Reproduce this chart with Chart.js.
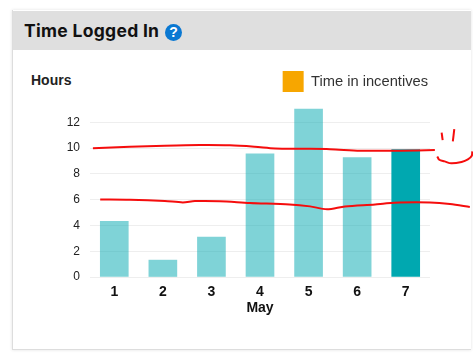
<!DOCTYPE html>
<html><head><meta charset="utf-8">
<style>
html,body{margin:0;padding:0;background:#fff;width:473px;height:362px;overflow:hidden}
#card{position:absolute;left:12px;top:10px;width:458px;height:339px;background:#fff;border-left:1px solid #ddd;border-bottom:1px solid #ddd;box-shadow:0 0 3px rgba(0,0,0,.12)}
#head{position:absolute;left:0;top:1px;right:0;height:39px;background:#dfdfdf}
#title{position:absolute;left:24px;top:20px;font:700 17.5px Inter,sans-serif;color:#111;letter-spacing:.3px;white-space:nowrap}
#help{position:absolute;left:165px;top:24px;width:17px;height:17px;border-radius:50%;background:#0a78d2;color:#fff;font:700 14px/17px "Liberation Sans",sans-serif;text-align:center}
#hours{position:absolute;left:31px;top:72px;font:700 14px "Liberation Sans",sans-serif;color:#222}
canvas{position:absolute;left:0;top:0}
</style></head><body>
<div id="card"><div id="head"></div></div>
<div id="title">Time Logged In</div><div id="help">?</div><div id="hours">Hours</div>
<canvas id="c" width="473" height="362"></canvas>
<script src="https://cdn.jsdelivr.net/npm/chart.js@4"></script>
<script>
const categories=['1','2','3','4','5','6','7'];
const hours=[4.32,1.31,3.09,9.55,13.04,9.26,9.88];
const yTicks=[0,2,4,6,8,10,12];
const legendLabel='Time in incentives';
const axisLabel='May';
const upperX=[0.56,1.32,2.04,2.76,3.38,3.89,4.31,4.82,5.44,6.06,6.88,7.60];
const upperY=[9.99,10.11,10.19,10.24,10.22,10.11,9.98,9.95,9.92,9.80,9.80,9.85];
const lowerX=[0.71,1.32,2.04,2.41,2.66,3.17,3.79,4.61,5.03,5.38,5.75,6.37,6.57,6.88,7.50,7.91,8.32];
const lowerY=[6.02,6.00,5.90,5.79,5.89,5.88,5.75,5.63,5.48,5.26,5.48,5.63,5.71,5.79,5.79,5.67,5.44];
const eyeLX=[7.74,7.76], eyeLY=[11.21,10.63];
const eyeRX=[8.00,7.97], eyeRY=[11.47,10.52];
const noseX=[7.88], noseY=[9.78];
const smileX=[7.65,7.69,7.80,7.94,8.15,8.28,8.36,8.37];
const smileY=[9.36,9.10,8.97,8.82,8.93,9.13,9.41,9.75];
const pts=(xs,ys)=>xs.map((x,i)=>({x,y:ys[i]}));
const ink=(xs,ys,w)=>({type:'line',data:pts(xs,ys),xAxisID:'ink',borderColor:'#f50d0d',backgroundColor:'#f50d0d',borderWidth:w,pointRadius:0,tension:.3,clip:false,order:0,parsing:false});
const barColors=categories.map((_,i)=>i===6?'#00a8b0':'rgba(0,168,176,.5)');
new Chart(document.getElementById('c'),{
 data:{labels:categories,datasets:[
  {type:'bar',label:legendLabel,data:hours,backgroundColor:barColors,barThickness:28,grouped:false,order:1},
  ink(upperX,upperY,2),ink(lowerX,lowerY,2),ink(eyeLX,eyeLY,2),ink(eyeRX,eyeRY,2),
  {...ink(noseX,noseY,1),pointRadius:1},ink(smileX,smileY,2)
 ]},
 options:{responsive:false,animation:false,
  layout:{padding:{left:40,right:43,top:69,bottom:45}},
  plugins:{tooltip:{enabled:false},
   legend:{position:'top',align:'end',labels:{boxWidth:21,boxHeight:21,padding:2,color:'#333',font:{family:'Liberation Sans',size:14.7},
    generateLabels:()=>[{text:legendLabel,fillStyle:'#f7a600',strokeStyle:'#f7a600',lineWidth:0,datasetIndex:0,fontColor:'#333'}]}}},
  scales:{
   x:{type:'category',grid:{display:false,drawTicks:false},border:{display:false},
      afterFit(s){s.height=40;},
      ticks:{color:'#111',font:{family:'Liberation Sans',size:14,weight:'bold'},padding:7,maxRotation:0},
      title:{display:true,text:axisLabel,color:'#111',font:{family:'Liberation Sans',size:14,weight:'bold'},padding:0}},
   ink:{type:'linear',display:false,bounds:'data',
      afterDataLimits(s){s.min=.5;s.max=7.5;},afterBuildTicks(s){s.min=.5;s.max=7.5;}},
   y:{min:0,max:13.58,afterBuildTicks(s){s.ticks=yTicks.map(v=>({value:v}));},
      afterFit(s){s.width=50;},
      grid:{color:'#eeeeee',drawTicks:false},border:{display:false},
      ticks:{color:'#222',font:{family:'Liberation Sans',size:12},padding:10}}
  }}
});
</script></body></html>
